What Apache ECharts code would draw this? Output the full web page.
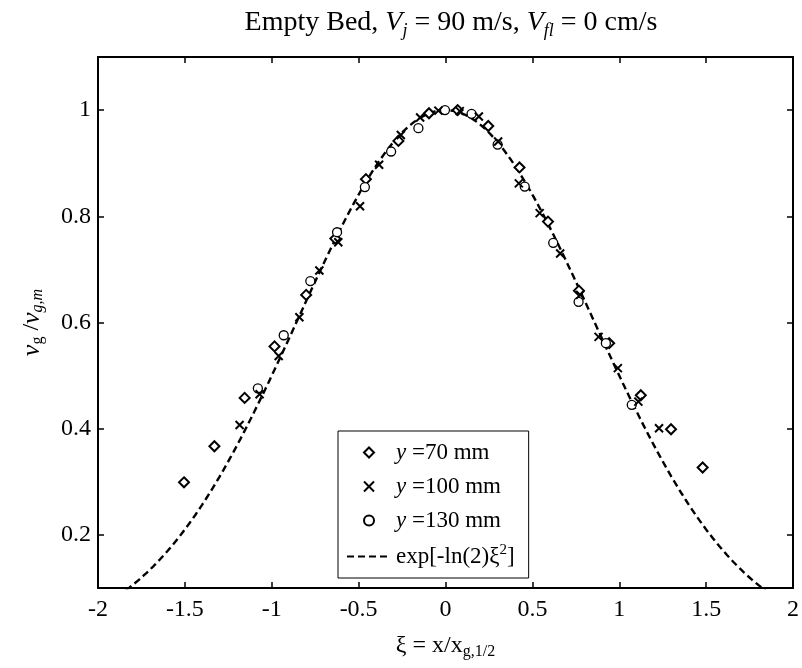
<!DOCTYPE html>
<html><head><meta charset="utf-8">
<script src="https://cdn.jsdelivr.net/npm/echarts@6/dist/echarts.min.js"></script>
<style>html,body{margin:0;padding:0;background:#fff}#c{width:802px;height:668px}</style>
</head><body><div id="c"></div>
<script>
// ---- data ----
const xTicks = [-2, -1.5, -1, -0.5, 0, 0.5, 1, 1.5, 2];
const yTicks = [0.2, 0.4, 0.6, 0.8, 1];

const y70X  = [-1.505, -1.330, -1.156, -0.984, -0.802, -0.634, -0.458, -0.271, -0.095, 0.070, 0.246, 0.426, 0.590, 0.768, 0.942, 1.124, 1.298, 1.480];
const y70Y  = [ 0.299,  0.367,  0.458,  0.555,  0.652,  0.758,  0.870,  0.942,  0.994, 1.000, 0.970, 0.892, 0.790, 0.660, 0.561, 0.463, 0.399, 0.327];

const y100X = [-1.185, -1.070, -0.960, -0.841, -0.726, -0.617, -0.492, -0.382, -0.257, -0.146, -0.041, 0.082, 0.192, 0.303, 0.422, 0.542, 0.660, 0.775, 0.881, 0.992, 1.110, 1.229];
const y100Y = [ 0.407,  0.465,  0.537,  0.610,  0.698,  0.751,  0.819,  0.897,  0.953,  0.986,  0.999, 0.998, 0.988, 0.941, 0.862, 0.806, 0.730, 0.652, 0.573, 0.514, 0.451, 0.401];

const y130X = [-1.080, -0.931, -0.778, -0.624, -0.464, -0.313, -0.156, -0.003, 0.150, 0.300, 0.456, 0.620, 0.766, 0.923, 1.072];
const y130Y = [ 0.476,  0.576,  0.678,  0.770,  0.855,  0.922,  0.966,  1.000, 0.993, 0.935, 0.856, 0.750, 0.639, 0.561, 0.445];

// fitted profile exp[-ln(2) xi^2], sampled along xi
const curveXi = [];
for (let i = 0; i <= 200; i++) curveXi.push(-2 + i * 0.02);
const curveV = curveXi.map(x => Math.exp(-Math.LN2 * x * x));

// ---- chart ----
const FONT = 'Liberation Serif';
const zip = (a, b) => a.map((v, i) => [v, b[i]]);
const crossPath = 'path://M0,0L10,10M0,10L10,0';
// legend icon: a 10px diamond centred in the 44x10 legend icon box
const legendDiamond = 'path://M0,0M44,10M17,5L22,0L27,5L22,10Z';

const chart = echarts.init(document.getElementById('c'), null, {renderer: 'canvas'});

const subStyle = {fontFamily: FONT, fontSize: 16, color: '#000', padding: [12, 0, 0, 0]};
const supStyle = {fontFamily: FONT, fontSize: 15, color: '#000', padding: [0, 0, 12, 0]};

const legendNames = {
  'y70': '{i|y} =70 mm',
  'y100': '{i|y} =100 mm',
  'y130': '{i|y} =130 mm',
  'fit': 'exp[-ln(2)ξ{sup|2}]'
};

const option = {
  backgroundColor: '#fff',
  animation: false,
  title: {
    text: 'Empty Bed, {i|V}{sub|j} = 90 m/s, {i|V}{sub|fl} = 0 cm/s',
    left: 446, top: 1, textAlign: 'center',
    textStyle: {
      fontFamily: FONT, fontSize: 28, fontWeight: 'normal', color: '#000',
      rich: {
        i: {fontFamily: FONT, fontSize: 28, fontStyle: 'italic', color: '#000'},
        sub: {fontFamily: FONT, fontSize: 18, fontStyle: 'italic', color: '#000', padding: [16, 0, 0, 0]}
      }
    }
  },
  grid: {left: 98, right: 7, top: 57, bottom: 80, containLabel: false},
  legend: {
    orient: 'vertical', left: 338, top: 431,
    itemWidth: 44, itemHeight: 10, itemGap: 11,
    padding: [10, 14, 10, 8],
    borderColor: '#000', borderWidth: 1, backgroundColor: '#fff',
    selectedMode: false,
    textStyle: {
      fontFamily: FONT, fontSize: 23, color: '#000',
      rich: {
        i: {fontFamily: FONT, fontSize: 23, fontStyle: 'italic', color: '#000'},
        sup: supStyle
      }
    },
    formatter: n => legendNames[n],
    data: [
      {name: 'y70', icon: legendDiamond},
      'y100', 'y130',
      {name: 'fit', itemStyle: {opacity: 0}}
    ]
  },
  xAxis: [{
    type: 'value', min: -2, max: 2, interval: 0.5, position: 'bottom',
    axisLine: {show: true, onZero: false, lineStyle: {color: '#000', width: 2}},
    axisTick: {show: true, inside: true, length: 6, lineStyle: {color: '#000', width: 1.5}},
    splitLine: {show: false},
    axisLabel: {fontFamily: FONT, fontSize: 24, color: '#000', margin: 10},
    name: 'ξ = x/x{sub|g,1/2}', nameLocation: 'middle', nameGap: 44,
    nameTextStyle: {fontFamily: FONT, fontSize: 24, color: '#000', rich: {sub: subStyle}}
  }, {
    type: 'value', min: -2, max: 2, interval: 0.5, position: 'top',
    axisLine: {show: true, onZero: false, lineStyle: {color: '#000', width: 2}},
    axisTick: {show: true, inside: true, length: 6, lineStyle: {color: '#000', width: 1.5}},
    splitLine: {show: false}, axisLabel: {show: false}
  }],
  yAxis: [{
    type: 'value', min: 0.1, max: 1.1, position: 'left',
    axisLine: {show: true, onZero: false, lineStyle: {color: '#000', width: 2}},
    axisTick: {show: true, inside: true, length: 6, customValues: yTicks, lineStyle: {color: '#000', width: 1.5}},
    splitLine: {show: false},
    axisLabel: {fontFamily: FONT, fontSize: 24, color: '#000', margin: 7, customValues: yTicks},
    name: '{i|v}{sub|g} /{i|v}{subi|g,m}', nameLocation: 'middle', nameGap: 52, nameRotate: 90,
    nameTextStyle: {
      fontFamily: FONT, fontSize: 24, color: '#000',
      rich: {
        i: {fontFamily: FONT, fontSize: 26, fontStyle: 'italic', color: '#000'},
        sub: subStyle,
        subi: Object.assign({}, subStyle, {fontStyle: 'italic'})
      }
    }
  }, {
    type: 'value', min: 0.1, max: 1.1, position: 'right',
    axisLine: {show: true, onZero: false, lineStyle: {color: '#000', width: 2}},
    axisTick: {show: true, inside: true, length: 6, customValues: yTicks, lineStyle: {color: '#000', width: 1.5}},
    splitLine: {show: false}, axisLabel: {show: false}
  }],
  series: [
    {
      name: 'fit', type: 'line', data: zip(curveXi, curveV),
      symbol: 'none', clip: true, z: 2,
      lineStyle: {color: '#000', width: 2.4, type: [7, 4]},
      itemStyle: {color: '#000'}
    },
    {
      name: 'y70', type: 'scatter', data: zip(y70X, y70Y),
      symbol: 'diamond', symbolSize: 10, symbolKeepAspect: true, z: 3,
      itemStyle: {color: '#fff', borderColor: '#000', borderWidth: 2, opacity: 1}
    },
    {
      name: 'y100', type: 'scatter', data: zip(y100X, y100Y),
      symbol: crossPath, symbolSize: 8, symbolKeepAspect: true, z: 4,
      itemStyle: {color: '#000', borderColor: '#000', borderWidth: 2, opacity: 1}
    },
    {
      name: 'y130', type: 'scatter', data: zip(y130X, y130Y),
      symbol: 'circle', symbolSize: 9, z: 3,
      itemStyle: {color: '#fff', borderColor: '#000', borderWidth: 1.3, opacity: 1}
    }
  ]
};
chart.setOption(option);
</script>
</body></html>
